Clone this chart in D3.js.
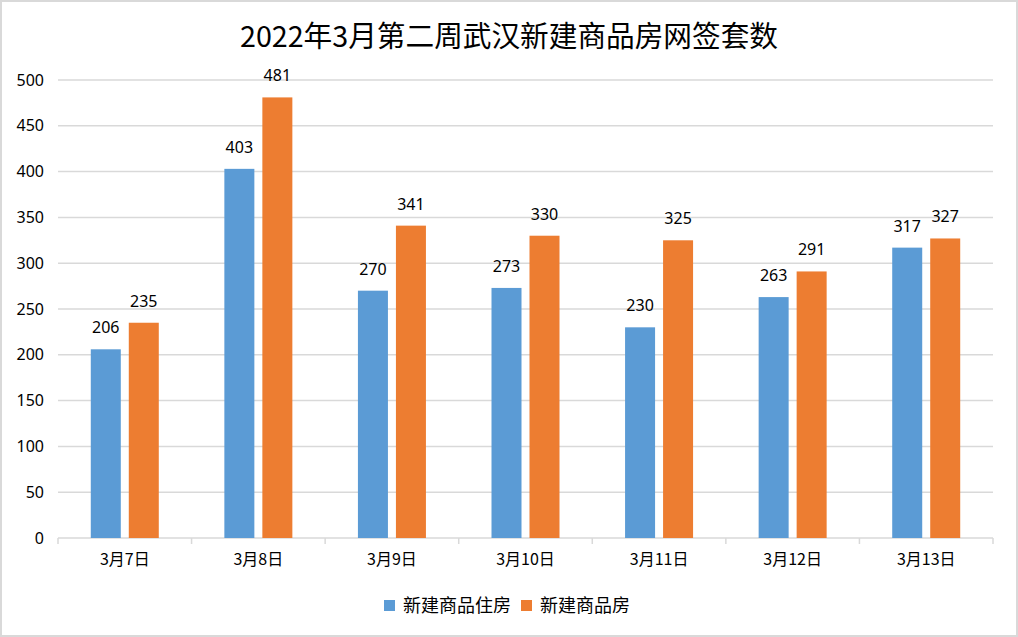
<!DOCTYPE html>
<html><head><meta charset="utf-8">
<script src="https://cdn.jsdelivr.net/npm/d3@7/dist/d3.min.js"></script>
<style>body{margin:0;background:#fff}svg{display:block}</style>
</head><body><svg id="c" width="1018" height="637"></svg>
<script>
const title = "2022年3月第二周武汉新建商品房网签套数";
const categories = ["3月7日","3月8日","3月9日","3月10日","3月11日","3月12日","3月13日"];
const seriesNames = ["新建商品住房","新建商品房"];
const residential = [206,403,270,273,230,263,317];
const commercial = [235,481,341,330,325,291,327];
const yTicks = [0,50,100,150,200,250,300,350,400,450,500];
const colors = ["#5B9BD5","#ED7D31"];

const svg = d3.select("#c");
const W = 1018, H = 637;
const m = {l:58, r:25, t:80, b:99};
const pw = W - m.l - m.r, ph = H - m.t - m.b;

svg.append("rect").attr("x",1).attr("y",1).attr("width",W-2).attr("height",H-2)
  .attr("fill","#fff").attr("stroke","#d9d9d9").attr("stroke-width",2);

svg.append("text").attr("x",509).attr("y",47).attr("text-anchor","middle")
  .attr("font-family","'Noto Sans CJK SC'").attr("font-size",29).attr("fill","#000")
  .attr("textLength",538).attr("lengthAdjust","spacingAndGlyphs")
  .text(title);

const x = d3.scaleBand().domain(categories).range([m.l, m.l+pw]).padding(0);
const x1 = d3.scaleBand().domain(seriesNames).range([-34,34]).paddingInner(0.2105);
const y = d3.scaleLinear().domain([0,500]).range([m.t+ph, m.t]);

const g = svg.append("g");
g.selectAll("line.grid").data(yTicks.filter(d=>d>0)).enter().append("line")
  .attr("x1",m.l).attr("x2",m.l+pw).attr("y1",d=>y(d)).attr("y2",d=>y(d))
  .attr("stroke","#d9d9d9").attr("stroke-width",1.5);

const yAxis = d3.axisLeft(y).tickValues(yTicks).tickSize(0).tickPadding(14);
const ya = svg.append("g").attr("transform",`translate(${m.l},0)`).call(yAxis);
ya.select(".domain").remove();
ya.selectAll("text").attr("font-family","'Noto Sans'").attr("font-size",16).attr("fill","#000");

const xAxis = d3.axisBottom(x).tickSize(0).tickPadding(16);
const xa = svg.append("g").attr("transform",`translate(0,${m.t+ph})`).call(xAxis);
xa.select(".domain").remove();
xa.selectAll("text").attr("font-family","'Noto Sans CJK SC'").attr("font-size",16).attr("fill","#000");
svg.append("line").attr("x1",m.l).attr("x2",m.l+pw).attr("y1",y(0)).attr("y2",y(0))
  .attr("stroke","#d9d9d9").attr("stroke-width",1.5);
const bounds = categories.map(c=>x(c)).concat([m.l+pw]);
svg.selectAll("line.xt").data(bounds).enter().append("line")
  .attr("x1",d=>d).attr("x2",d=>d).attr("y1",y(0)).attr("y2",y(0)+6)
  .attr("stroke","#d9d9d9").attr("stroke-width",1.5);

const series = [residential, commercial];
series.forEach((vals, si) => {
  const sg = svg.append("g");
  sg.selectAll("rect").data(vals).enter().append("rect")
    .attr("x",(d,i)=>x(categories[i]) + x.bandwidth()/2 + x1(seriesNames[si]))
    .attr("width",x1.bandwidth())
    .attr("y",d=>y(d)).attr("height",d=>y(0)-y(d))
    .attr("fill",colors[si]);
  sg.selectAll("text").data(vals).enter().append("text")
    .attr("x",(d,i)=>x(categories[i]) + x.bandwidth()/2 + x1(seriesNames[si]) + x1.bandwidth()/2)
    .attr("y",d=>y(d)-16).attr("text-anchor","middle")
    .attr("font-family","'Noto Sans'").attr("font-size",16).attr("fill","#000")
    .text(d=>d);
});

const lg = svg.append("g").attr("transform","translate(384,600)");
const items = [{n:seriesNames[0],c:colors[0],x:0},{n:seriesNames[1],c:colors[1],x:137}];
items.forEach(it=>{
  lg.append("rect").attr("x",it.x).attr("y",0).attr("width",11).attr("height",11).attr("fill",it.c);
  lg.append("text").attr("x",it.x+19).attr("y",12).attr("font-family","'Noto Sans CJK SC'")
    .attr("font-size",18).attr("fill","#000").text(it.n);
});
</script></body></html>
